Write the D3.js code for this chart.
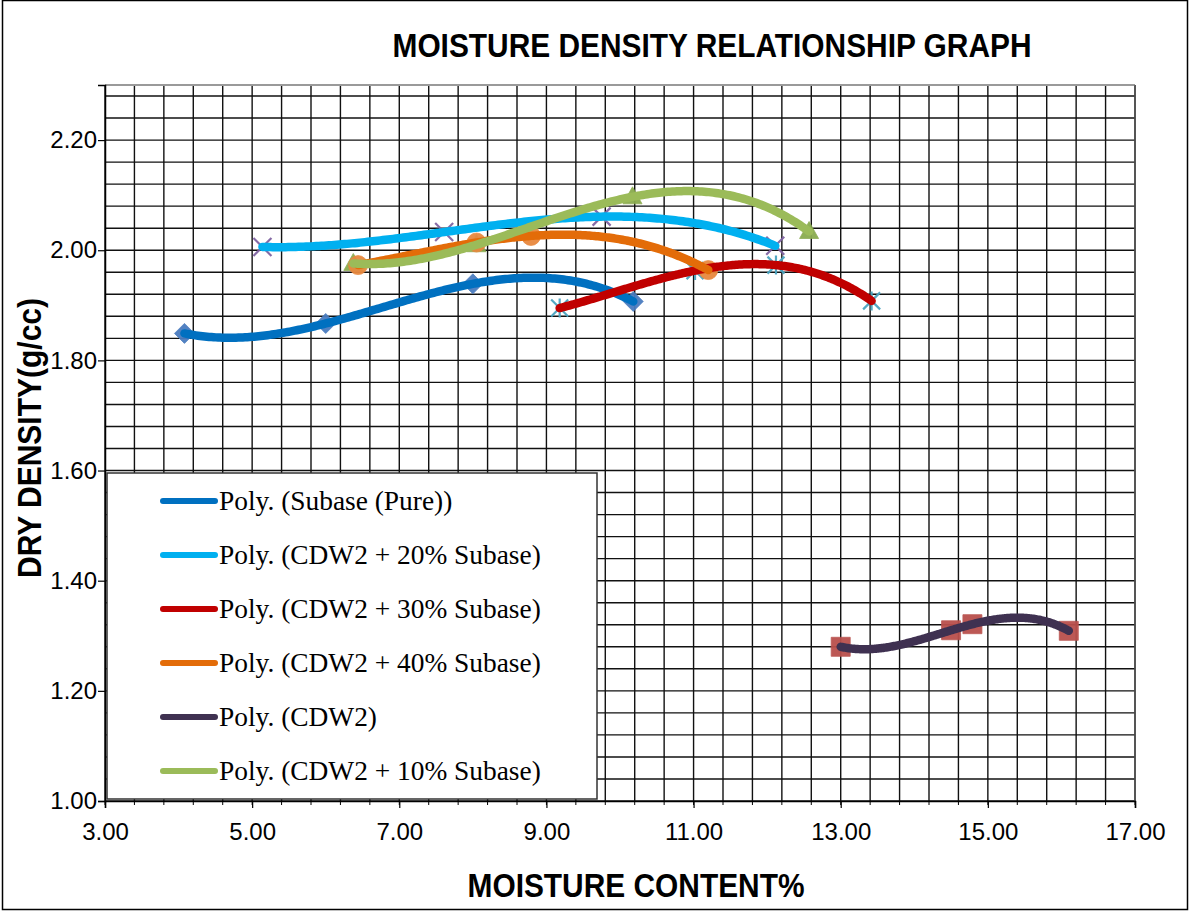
<!DOCTYPE html>
<html>
<head>
<meta charset="utf-8">
<script src="https://cdn.jsdelivr.net/npm/d3@7"></script>
<style>
  body { margin: 0; background: #fff; }
  svg { display: block; }
</style>
</head>
<body>
<svg id="chart" width="1189" height="911"></svg>
<script>
// ---- Data: compacted samples (moisture content %, dry density g/cc) ----
const subaseX  = [4.08, 6.00, 8.00, 10.18];
const subaseY  = [1.849, 1.867, 1.939, 1.907];
const cdw2X    = [13.00, 14.50, 14.79, 16.10];
const cdw2Y    = [1.280, 1.310, 1.321, 1.309];
const cdw10X   = [6.375, 8.05, 10.17, 12.57];
const cdw10Y   = [1.976, 2.010, 2.097, 2.034];
const cdw20X   = [5.14, 7.61, 9.75, 12.11];
const cdw20Y   = [2.006, 2.033, 2.061, 2.008];
const cdw30X   = [9.18, 11.02, 12.12, 13.42];
const cdw30Y   = [1.895, 1.963, 1.973, 1.908];
const cdw40X   = [6.44, 8.05, 8.79, 11.20];
const cdw40Y   = [1.973, 2.014, 2.026, 1.964];

const legendLabels = [
  "Poly. (Subase (Pure))",
  "Poly. (CDW2 + 20% Subase)",
  "Poly. (CDW2 + 30% Subase)",
  "Poly. (CDW2 + 40% Subase)",
  "Poly. (CDW2)",
  "Poly. (CDW2 + 10% Subase)"
];
const xTickValues = [3, 5, 7, 9, 11, 13, 15, 17];
const yTickValues = [1.0, 1.2, 1.4, 1.6, 1.8, 2.0, 2.2];

// Series in plotting order (marker style, marker colour, trendline colour)
const series = [
  { key: "subase", xs: subaseX, ys: subaseY, marker: "diamond",  mColor: "#4a7cbf", lColor: "#0070c0", legend: 0 },
  { key: "cdw2",   xs: cdw2X,   ys: cdw2Y,   marker: "square",   mColor: "#b9504c", lColor: "#3f3151", legend: 4 },
  { key: "cdw10",  xs: cdw10X,  ys: cdw10Y,  marker: "triangle", mColor: "#8aab4f", lColor: "#9bbb59", legend: 5 },
  { key: "cdw20",  xs: cdw20X,  ys: cdw20Y,  marker: "x",        mColor: "#7f63a1", lColor: "#00b0f0", legend: 1 },
  { key: "cdw30",  xs: cdw30X,  ys: cdw30Y,  marker: "star",     mColor: "#4aa3c0", lColor: "#c00000", legend: 2 },
  { key: "cdw40",  xs: cdw40X,  ys: cdw40Y,  marker: "circle",   mColor: "#e8893f", lColor: "#e36c09", legend: 3 }
];

// ---- Layout ----
const plot = { left: 105, top: 85, right: 1135, bottom: 801 };
const svg = d3.select("#chart");

const x = d3.scaleLinear().domain([3, 17]).range([plot.left, plot.right]);
const y = d3.scaleLinear().domain([1.0, 2.3]).range([plot.bottom, plot.top]);

// Outer chart frame
svg.append("rect")
  .attr("x", 2.5).attr("y", 0.5).attr("width", 1185).attr("height", 909)
  .attr("fill", "#fff").attr("stroke", "#000").attr("stroke-width", 1.5);

// ---- Grid ----
const gridX = d3.range(0, 36).map(i => 3 + 0.4 * i);
const gridY = d3.range(0, 33).map(i => 1.0 + 0.04 * i);
const grid = svg.append("g").attr("stroke", "#111").attr("stroke-width", 1.4);
grid.selectAll("line.gx").data(gridX).join("line")
  .attr("x1", d => x(d)).attr("x2", d => x(d))
  .attr("y1", plot.top).attr("y2", plot.bottom);
grid.selectAll("line.gy").data(gridY).join("line")
  .attr("x1", plot.left).attr("x2", plot.right)
  .attr("y1", d => y(d)).attr("y2", d => y(d));

// Plot area outline (top edge is lighter)
svg.append("line").attr("x1", plot.left).attr("x2", plot.right)
  .attr("y1", plot.top).attr("y2", plot.top)
  .attr("stroke", "#9a9a9a").attr("stroke-width", 2);
svg.append("line").attr("x1", plot.right).attr("x2", plot.right)
  .attr("y1", plot.top).attr("y2", plot.bottom)
  .attr("stroke", "#555").attr("stroke-width", 1.5);

// ---- Axes ----
const fmt = d3.format(".2f");
const xAxis = d3.axisBottom(x).tickValues(xTickValues).tickFormat(fmt).tickSize(7).tickPadding(15);
const yAxis = d3.axisLeft(y).tickValues(yTickValues).tickFormat(fmt).tickSize(7).tickPadding(1);

const gx = svg.append("g").attr("transform", `translate(0,${plot.bottom})`).call(xAxis);
const gy = svg.append("g").attr("transform", `translate(${plot.left},0)`).call(yAxis);
[gx, gy].forEach(g => {
  g.select(".domain").attr("stroke", "#000").attr("stroke-width", 1.5);
  g.selectAll(".tick line").attr("stroke", "#000").attr("stroke-width", 1.2);
  g.selectAll(".tick text")
    .attr("font-family", "'Liberation Sans', Arial, sans-serif")
    .attr("font-size", 24).attr("fill", "#000");
});
// minor ticks on the x axis
gx.selectAll("line.minor").data(gridX).join("line").attr("class", "minor")
  .attr("x1", d => x(d)).attr("x2", d => x(d)).attr("y1", 0).attr("y2", 4)
  .attr("stroke", "#000").attr("stroke-width", 1);

// ---- Titles ----
const bold = "'Liberation Sans', Arial, sans-serif";
svg.append("text").attr("x", 712).attr("y", 57).attr("text-anchor", "middle")
  .attr("font-family", bold).attr("font-weight", "bold").attr("font-size", 33)
  .attr("textLength", 639).attr("lengthAdjust", "spacingAndGlyphs")
  .text("MOISTURE DENSITY RELATIONSHIP GRAPH");
svg.append("text").attr("x", 636).attr("y", 897).attr("text-anchor", "middle")
  .attr("font-family", bold).attr("font-weight", "bold").attr("font-size", 33)
  .attr("textLength", 337).attr("lengthAdjust", "spacingAndGlyphs")
  .text("MOISTURE CONTENT%");
svg.append("text").attr("transform", "translate(41,438) rotate(-90)").attr("text-anchor", "middle")
  .attr("font-family", bold).attr("font-weight", "bold").attr("font-size", 33)
  .attr("textLength", 280).attr("lengthAdjust", "spacingAndGlyphs")
  .text("DRY DENSITY(g/cc)");

// ---- Polynomial trendline (least squares, order 3) ----
function polyfit(xs, ys, order) {
  const n = order + 1;
  const xm = d3.mean(xs);
  const A = Array.from({ length: n }, () => new Array(n).fill(0));
  const b = new Array(n).fill(0);
  xs.forEach((xv, i) => {
    const t = xv - xm;
    for (let r = 0; r < n; r++) {
      for (let c = 0; c < n; c++) A[r][c] += Math.pow(t, r + c);
      b[r] += ys[i] * Math.pow(t, r);
    }
  });
  // Gaussian elimination with partial pivoting
  for (let i = 0; i < n; i++) {
    let p = i;
    for (let k = i + 1; k < n; k++) if (Math.abs(A[k][i]) > Math.abs(A[p][i])) p = k;
    [A[i], A[p]] = [A[p], A[i]]; [b[i], b[p]] = [b[p], b[i]];
    for (let k = i + 1; k < n; k++) {
      const f = A[k][i] / A[i][i];
      for (let c = i; c < n; c++) A[k][c] -= f * A[i][c];
      b[k] -= f * b[i];
    }
  }
  const coef = new Array(n).fill(0);
  for (let i = n - 1; i >= 0; i--) {
    let s = b[i];
    for (let c = i + 1; c < n; c++) s -= A[i][c] * coef[c];
    coef[i] = s / A[i][i];
  }
  return xv => coef.reduce((acc, cf, k) => acc + cf * Math.pow(xv - xm, k), 0);
}

// ---- Markers ----
function markerPath(type) {
  const p = d3.path();
  switch (type) {
    case "diamond": p.moveTo(0, -10); p.lineTo(10, 0); p.lineTo(0, 10); p.lineTo(-10, 0); p.closePath(); break;
    case "square": p.rect(-9.5, -9.5, 19, 19); break;
    case "triangle": p.moveTo(0, -10); p.lineTo(9.5, 7); p.lineTo(-9.5, 7); p.closePath(); break;
    case "circle": p.arc(0, 0, 9.5, 0, 2 * Math.PI); break;
    case "x": p.moveTo(-9, -9); p.lineTo(9, 9); p.moveTo(9, -9); p.lineTo(-9, 9); break;
    case "star": p.moveTo(-8.5, -8.5); p.lineTo(8.5, 8.5); p.moveTo(8.5, -8.5); p.lineTo(-8.5, 8.5); p.moveTo(0, -9.5); p.lineTo(0, 9.5); break;
  }
  return p.toString();
}

const markersG = svg.append("g");
series.forEach(s => {
  const pts = s.xs.map((xv, i) => [xv, s.ys[i]]);
  const isStroke = s.marker === "x" || s.marker === "star";
  markersG.append("g").selectAll("path").data(pts).join("path")
    .attr("transform", d => `translate(${x(d[0])},${y(d[1])})`)
    .attr("d", markerPath(s.marker))
    .attr("fill", isStroke ? "none" : s.mColor)
    .attr("stroke", s.mColor)
    .attr("stroke-width", isStroke ? 2.2 : 0.8)
    .attr("opacity", 0.95);
});

// ---- Trendlines (drawn over markers, in legend order) ----
const line = d3.line().x(d => x(d[0])).y(d => y(d[1])).curve(d3.curveLinear);
const linesG = svg.append("g");
series.slice().sort((a, b) => a.legend - b.legend).forEach(s => {
  const f = polyfit(s.xs, s.ys, 3);
  const lo = d3.min(s.xs), hi = d3.max(s.xs);
  const samples = d3.range(0, 201).map(i => lo + (hi - lo) * i / 200);
  linesG.append("path")
    .datum(samples.map(xv => [xv, f(xv)]))
    .attr("d", line)
    .attr("fill", "none")
    .attr("stroke", s.lColor)
    .attr("stroke-width", 8.5)
    .attr("stroke-linecap", "round")
    .attr("stroke-linejoin", "round");
});

// ---- Legend ----
const legend = svg.append("g");
legend.append("rect")
  .attr("x", 107).attr("y", 473).attr("width", 490).attr("height", 326)
  .attr("fill", "#fff").attr("stroke", "#333").attr("stroke-width", 1.5);
const legendOrder = series.slice().sort((a, b) => a.legend - b.legend);
const rowY = d3.scalePoint().domain(d3.range(legendOrder.length)).range([501, 771]);
legendOrder.forEach((s, i) => {
  const cy = rowY(i);
  legend.append("line")
    .attr("x1", 163).attr("x2", 215).attr("y1", cy).attr("y2", cy)
    .attr("stroke", s.lColor).attr("stroke-width", 6).attr("stroke-linecap", "round");
  legend.append("text")
    .attr("x", 219).attr("y", cy + 8.5)
    .attr("font-family", "'Liberation Serif', 'Times New Roman', serif")
    .attr("font-size", 27.4).attr("fill", "#000")
    .text(legendLabels[i]);
});
</script>
</body>
</html>
